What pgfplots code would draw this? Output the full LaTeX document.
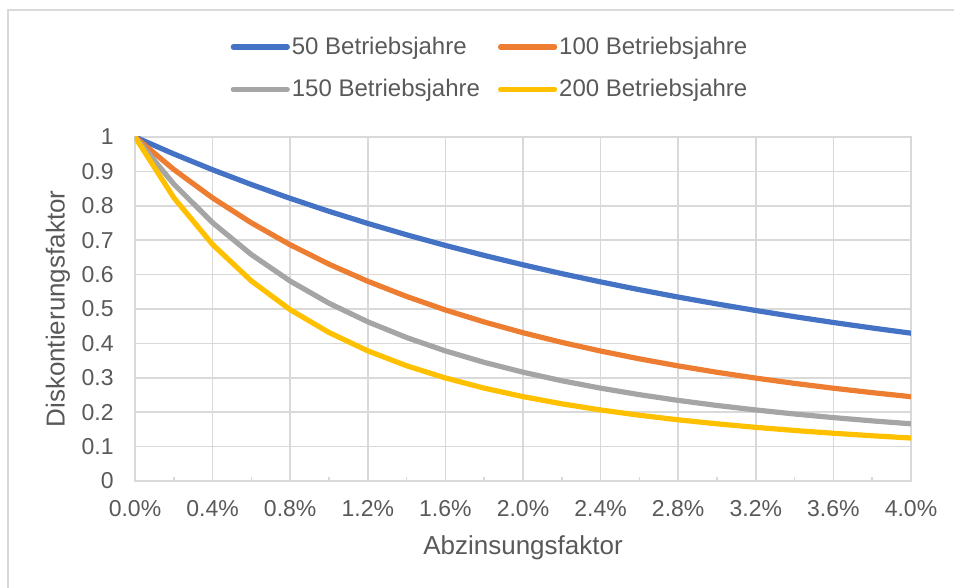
\documentclass[border=0pt]{standalone}
\usepackage{fontspec}
\setmainfont{Liberation Sans}
\usepackage{pgfplots}
\pgfplotsset{compat=1.18}
\usepackage{pgfplotstable}
\definecolor{txt}{HTML}{595959}
\definecolor{grd}{HTML}{D9D9D9}
\definecolor{cblue}{HTML}{4472C4}
\definecolor{corange}{HTML}{ED7D31}
\definecolor{cgray}{HTML}{A5A5A5}
\definecolor{cyellow}{HTML}{FFC000}
\pgfplotstableread{
x    a       b       c       d
0.0  1.00000 1.00000 1.00000 1.00000
0.2  0.95072 0.90553 0.86320 0.82353
0.4  0.90471 0.82286 0.75088 0.68744
0.6  0.86173 0.75034 0.65815 0.58144
0.8  0.82153 0.68655 0.58114 0.49801
1.0  0.78392 0.63029 0.51680 0.43166
1.2  0.74871 0.58054 0.46273 0.37832
1.4  0.71571 0.53643 0.41702 0.33500
1.6  0.68477 0.49721 0.37814 0.29944
1.8  0.65574 0.46224 0.34487 0.26994
2.0  0.62847 0.43098 0.31624 0.24524
2.2  0.60285 0.40296 0.29145 0.22435
2.4  0.57876 0.37778 0.26986 0.20652
2.6  0.55608 0.35508 0.25096 0.19117
2.8  0.53472 0.33457 0.23431 0.17786
3.0  0.51460 0.31599 0.21958 0.16622
3.2  0.49561 0.29911 0.20649 0.15596
3.4  0.47769 0.28373 0.19478 0.14688
3.6  0.46077 0.26969 0.18427 0.13877
3.8  0.44477 0.25684 0.17479 0.13150
4.0  0.42964 0.24505 0.16620 0.12495
}\datatable
\begin{document}
\begin{tikzpicture}
\useasboundingbox (0,0) rectangle (477pt,294pt);
\draw[grd, line width=1pt] (3.75pt,-2pt) -- (3.75pt,289pt) -- (480pt,289pt);
\begin{axis}[
  at={(67.5pt,53.5pt)}, anchor=south west,
  scale only axis, width=388pt, height=172pt,
  xmin=0, xmax=4, ymin=0, ymax=1,
  xtick={0,0.4,...,4.01},
  xticklabels={0.0\%,0.4\%,0.8\%,1.2\%,1.6\%,2.0\%,2.4\%,2.8\%,3.2\%,3.6\%,4.0\%},
  ytick={0,0.1,...,1.01},
  minor x tick num=1,
  grid=major,
  major grid style={grd, line width=0.75pt},
  axis line style={grd, line width=0.75pt},
  tick align=inside,
  xtick pos=bottom, ytick pos=left,
  major tick length=0pt,
  minor tick length=2.2pt,
  minor tick style={grd, line width=0.75pt},
  /pgf/number format/assume math mode=true,
  ticklabel style={font=\fontsize{11.5}{13}\selectfont, text=txt},
  yticklabel style={anchor=east, inner sep=0pt, xshift=-10.5pt},
  xticklabel style={anchor=north, inner sep=0pt, yshift=-9.5pt},
  label style={font=\fontsize{13}{15}\selectfont, text=txt},
  xlabel={Abzinsungsfaktor},
  ylabel={Diskontierungsfaktor},
  xlabel style={at={(axis description cs:0.5,-0.1948)}, anchor=center},
  ylabel style={at={(axis description cs:-0.0992,0.5)}, anchor=center},
  legend columns=2,
  legend cell align=left,
  legend style={at={(axis description cs:0.4575,1.200)}, anchor=center,
    draw=none, fill=none, font=\fontsize{12}{14}\selectfont, text=txt,
    row sep=9pt, nodes={inner sep=1pt},
    /tikz/every even column/.append style={column sep=8pt}},
  legend image code/.code={\draw[#1, line width=2.6pt, line cap=round] (0pt,0pt) -- (27pt,0pt);},
  every axis plot/.append style={line width=2.6pt, line join=round, line cap=round, mark=none},
]
\addplot[cblue] table[x=x,y=a] {\datatable};
\addlegendentry{50 Betriebsjahre}
\addplot[corange] table[x=x,y=b] {\datatable};
\addlegendentry{100 Betriebsjahre}
\addplot[cgray] table[x=x,y=c] {\datatable};
\addlegendentry{150 Betriebsjahre}
\addplot[cyellow] table[x=x,y=d] {\datatable};
\addlegendentry{200 Betriebsjahre}
\end{axis}
\end{tikzpicture}
\end{document}
